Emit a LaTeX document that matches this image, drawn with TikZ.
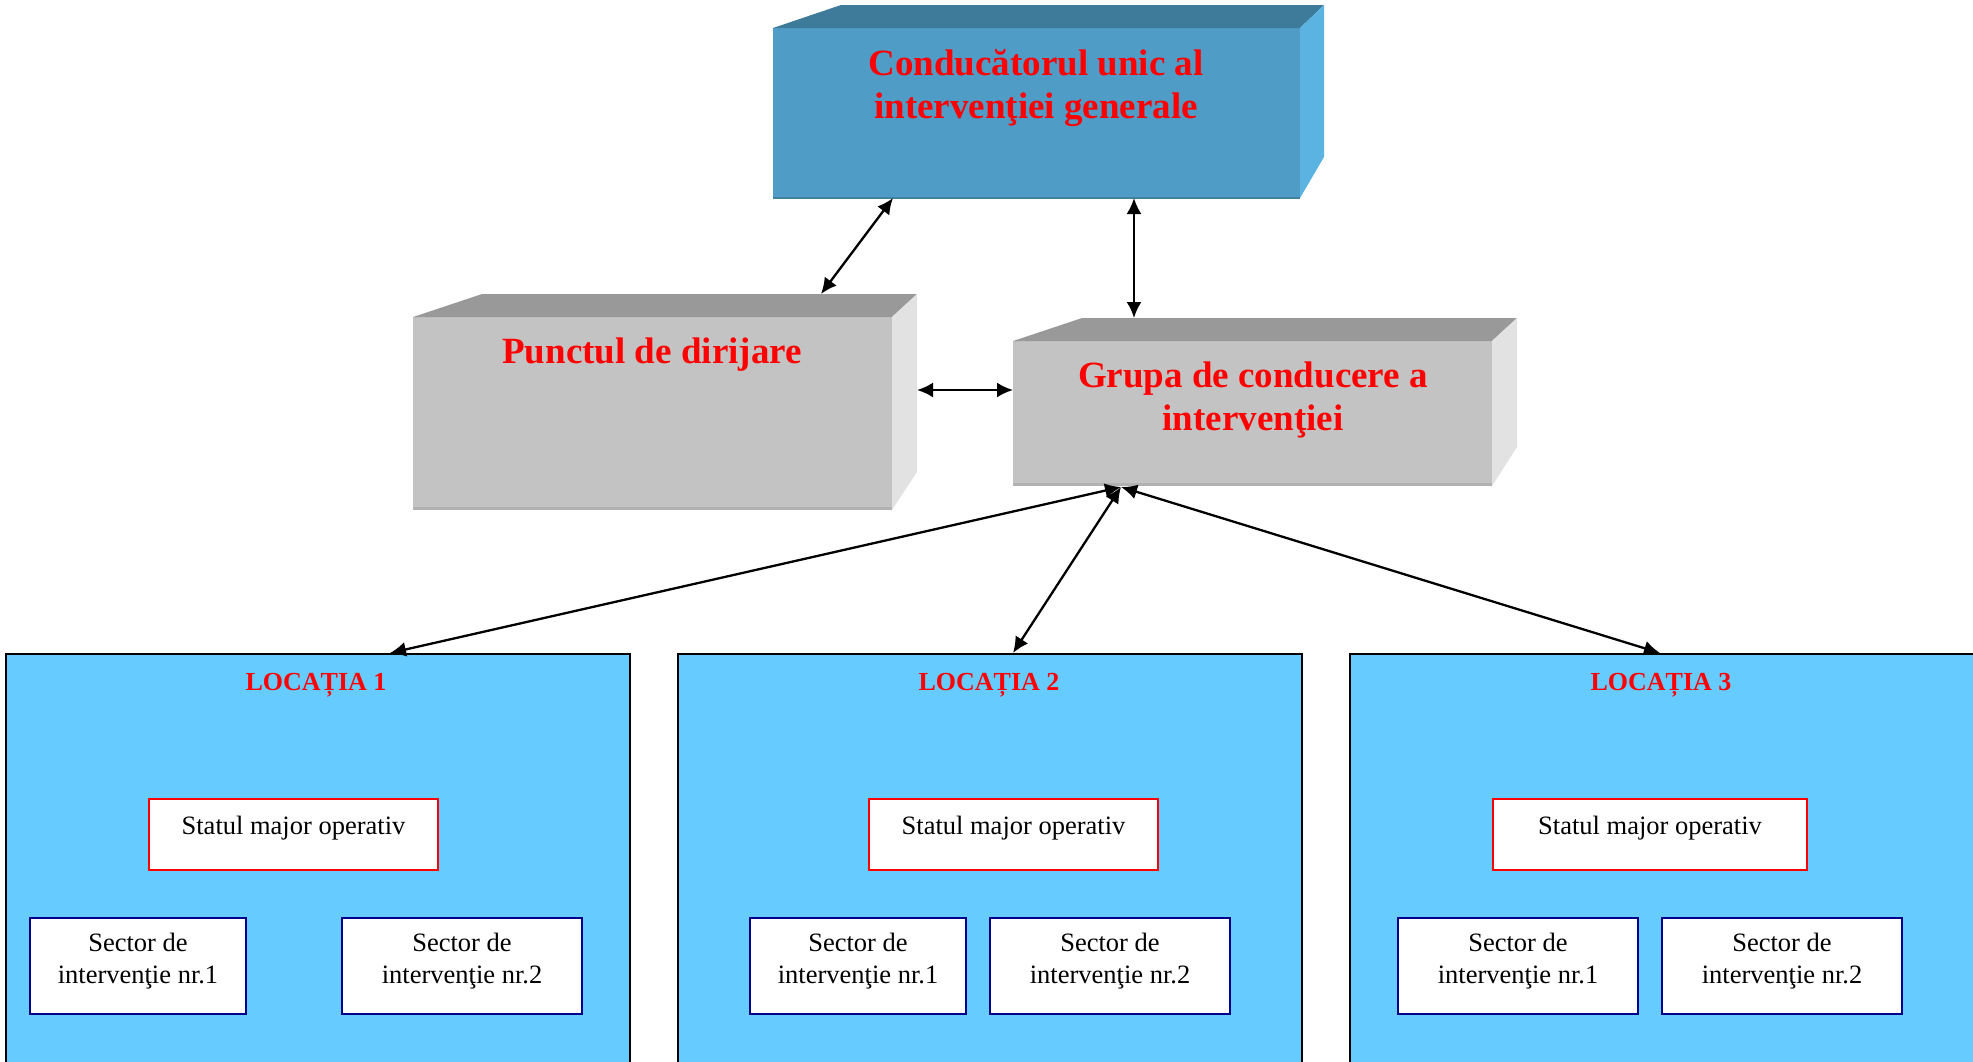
\documentclass[tikz,border=0pt]{standalone}
\usepackage{fontspec}
\setmainfont{Liberation Serif}
\usetikzlibrary{arrows.meta,calc}
\definecolor{topfront}{RGB}{79,157,198}
\definecolor{toptop}{RGB}{62,122,153}
\definecolor{topside}{RGB}{90,179,225}
\definecolor{grayfront}{RGB}{195,195,195}
\definecolor{graytop}{RGB}{153,153,153}
\definecolor{grayside}{RGB}{226,226,226}
\definecolor{grayedge}{RGB}{178,178,178}
\definecolor{locfill}{RGB}{102,204,255}
\definecolor{navy}{RGB}{0,0,140}
\tikzset{
  frontbox/.style={minimum width=#1, inner sep=0pt, outer sep=0pt, anchor=north west},
  bigtitle/.style={text=red, font=\bfseries\fontsize{37}{43}\selectfont, align=center, inner sep=0pt},
  loctitle/.style={text=red, font=\bfseries\fontsize{26}{31}\selectfont, inner sep=0pt},
  locbox/.style={draw=black, line width=2pt, fill=locfill, inner sep=0pt, anchor=north west},
  statbox/.style={draw=red, line width=2pt, fill=white, minimum width=289pt, minimum height=71pt, inner sep=0pt, anchor=north west},
  sectbox/.style={draw=navy, line width=2pt, fill=white, minimum height=96pt, inner sep=0pt, anchor=north west},
  secttext/.style={align=center, font=\fontsize{26.5}{31.5}\selectfont, inner sep=0pt},
  stattext/.style={font=\fontsize{26.5}{31.5}\selectfont, inner sep=0pt},
  arr/.style={{Latex[length=16pt,width=15pt]}-{Latex[length=16pt,width=15pt]}, line width=2.3pt, black},
}
\begin{document}
\begin{tikzpicture}[x=1pt,y=-1pt]
\useasboundingbox (0,0) rectangle (1973,1061);
\clip (0,0) rectangle (1973,1061);

% ---------- top box ----------
\node[frontbox=527pt, minimum height=170pt, fill=topfront] (top) at (773,28) {};
\fill[toptop] (top.north west) -- (top.north east) -- (1324,5) -- (841,5) -- cycle;
\fill[topside] (top.north east) -- (1324,5) -- (1324,157) -- (top.south east) -- cycle;
\draw[toptop!80!topfront, line width=1.5pt] (top.south west) -- (top.south east);
\node[bigtitle] (toptxt) at (1036,88) {Conducătorul unic al\\interven\c{t}iei generale};

% ---------- Punctul de dirijare ----------
\node[frontbox=479pt, minimum height=193pt, fill=grayfront] (pd) at (413,317) {};
\fill[graytop] (pd.north west) -- (pd.north east) -- (917,294) -- (482,294) -- cycle;
\fill[grayside] (pd.north east) -- (917,294) -- (917,472) -- (pd.south east) -- cycle;
\draw[grayedge, line width=3pt] ([yshift=1.5pt]pd.south west) -- ([yshift=1.5pt]pd.south east);
\node[bigtitle] (pdtxt) at (652,355) {Punctul de dirijare};

% ---------- Grupa de conducere ----------
\node[frontbox=479pt, minimum height=145pt, fill=grayfront] (gc) at (1013,341) {};
\fill[graytop] (gc.north west) -- (gc.north east) -- (1517,318) -- (1082,318) -- cycle;
\fill[grayside] (gc.north east) -- (1517,318) -- (1517,447) -- (gc.south east) -- cycle;
\draw[grayedge, line width=3pt] ([yshift=1.5pt]gc.south west) -- ([yshift=1.5pt]gc.south east);
\node[bigtitle] (gctxt) at (1253,400) {Grupa de conducere a\\interven\c{t}iei};

% connector end points on the 3D faces
\coordinate (pdtopend) at (821,294);
\coordinate (pdside) at (917,390);
\coordinate (gctopend) at (1134,318);
\coordinate (gchub) at (1121,487);

% ---------- locations ----------
\node[locbox, minimum width=624pt, minimum height=420pt] (loc1) at (5,653) {};
\node[locbox, minimum width=624pt, minimum height=420pt] (loc2) at (677,653) {};
\node[locbox, minimum width=650pt, minimum height=420pt] (loc3) at (1349,653) {};

\node[loctitle] (t1) at (316,685) {LOCAȚIA 1};
\node[loctitle] (t2) at (989,685) {LOCAȚIA 2};
\node[loctitle] (t3) at (1661,685) {LOCAȚIA 3};

\node[statbox] (s1) at (148,798) {};
\node[statbox] (s2) at (868,798) {};
\node[statbox, minimum width=314pt] (s3) at (1492,798) {};
\node[stattext] at ($(s1.north)+(0,30)$) {Statul major operativ};
\node[stattext] at ($(s2.north)+(0,30)$) {Statul major operativ};
\node[stattext] at ($(s3.north)+(0,30)$) {Statul major operativ};

\node[sectbox, minimum width=216pt] (a1) at (29,917) {};
\node[sectbox, minimum width=240pt] (b1) at (341,917) {};
\node[sectbox, minimum width=216pt] (a2) at (749,917) {};
\node[sectbox, minimum width=240pt] (b2) at (989,917) {};
\node[sectbox, minimum width=240pt] (a3) at (1397,917) {};
\node[sectbox, minimum width=240pt] (b3) at (1661,917) {};
\foreach \s/\n in {a1/1,b1/2,a2/1,b2/2,a3/1,b3/2}
  \node[secttext] at ($(\s.center)+(0,-5)$) {Sector de\\interven\c{t}ie nr.\n};

% ---------- connectors ----------
\draw[arr] ([xshift=120pt]top.south west) -- (pdtopend);
\draw[arr] ([xshift=361pt]top.south west) -- (gctopend);
\draw[arr] (pdside) -- (gc.west |- pdside);
\draw[arr] (gchub) -- ([xshift=385pt]loc1.north west);
\draw[arr] (gchub) -- ([xshift=336pt]loc2.north west);
\draw[arr] (gchub) -- ([xshift=311pt]loc3.north west);
\end{tikzpicture}
\end{document}
